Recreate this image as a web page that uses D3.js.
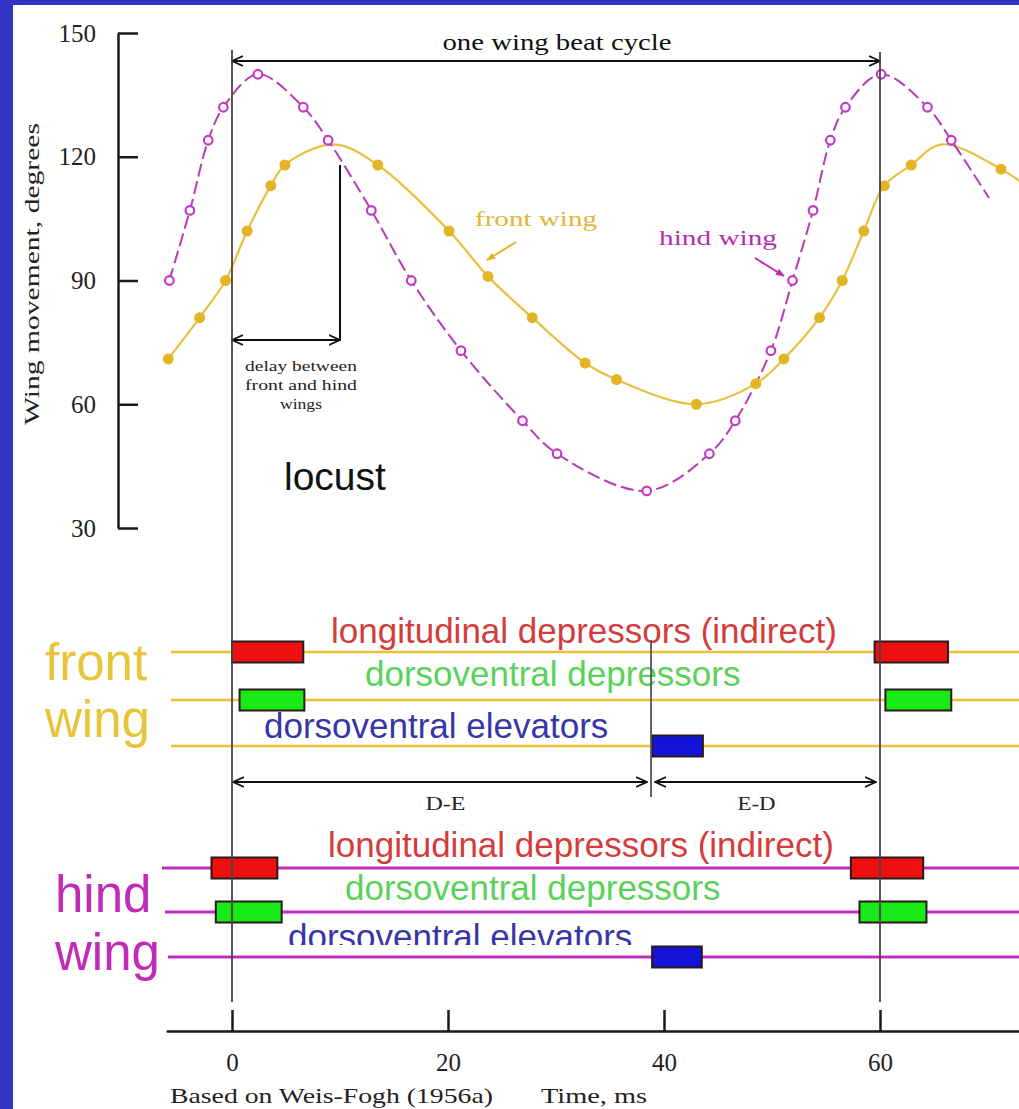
<!DOCTYPE html>
<html>
<head>
<meta charset="utf-8">
<script src="https://d3js.org/d3.v7.min.js"></script>
<style>
body { margin: 0; background: #3434c4; }
svg { display: block; }
.serif { font-family: "Liberation Serif", "DejaVu Serif", serif; }
.sans { font-family: "Liberation Sans", Arial, sans-serif; }
</style>
</head>
<body>
<div id="chart"></div>
<script>
// values (time in ms, angle in degrees)
var timeTicks = [0, 20, 40, 60];
var angleTicks = [30, 60, 90, 120, 150];

var hindTime   = [-5.8, -3.9, -2.2, -0.8, 2.4, 6.6, 8.9, 12.9, 16.6, 21.2, 26.9, 30.1, 38.4, 44.2, 46.6, 49.9, 51.9, 53.8, 55.4, 56.8, 60.1, 64.4, 66.6, 70.1];
var hindAngle  = [90, 107, 124, 132, 140, 132, 124, 107, 90, 73, 56, 48, 39, 48, 56, 73, 90, 107, 124, 132, 140, 132, 124, 110];
var hindMarker = [1, 1, 1, 1, 1, 1, 1, 1, 1, 1, 1, 1, 1, 1, 1, 1, 1, 1, 1, 1, 1, 1, 1, 0];

var frontTime   = [-5.9, -3.0, -0.6, 1.4, 3.6, 4.9, 9.4, 13.5, 20.1, 23.7, 27.8, 32.7, 35.6, 43.0, 48.5, 51.1, 54.4, 56.5, 58.5, 60.4, 62.9, 65.7, 71.2, 74.0];
var frontAngle  = [71, 81, 90, 102, 113, 118, 123, 118, 102, 91, 81, 70, 66, 60, 65, 71, 81, 90, 102, 113, 118, 123, 117, 112];
var frontMarker = [1, 1, 1, 1, 1, 1, 0, 1, 1, 1, 1, 1, 1, 1, 1, 1, 1, 1, 1, 1, 1, 0, 1, 0];

var muscleNames = ["longitudinal depressors (indirect)", "dorsoventral depressors", "dorsoventral elevators"];
var muscleColors = ["#d43c3c", "#5ad25a", "#3636a8"];
var barFill = ["#ee1010", "#18ea18", "#1414d8"];

// electrical activity bursts, ms
var frontBurstMuscle = [0, 0, 1, 1, 2];
var frontBurstStart  = [0, 59.5, 0.7, 60.5, 38.9];
var frontBurstEnd    = [6.6, 66.3, 6.7, 66.6, 43.6];

var hindBurstMuscle = [0, 0, 1, 1, 2];
var hindBurstStart  = [-1.9, 57.3, -1.5, 58.1, 38.9];
var hindBurstEnd    = [4.2, 64.0, 4.6, 64.3, 43.5];

var cycleStart = 0, cycleEnd = 60, elevStart = 38.8, delayEnd = 10;
var timeAxisExtent = [-6.1, 73];

var width = 1019, height = 1109;
var svg = d3.select('#chart').append('svg')
  .attr('width', width)
  .attr('height', height);

svg.append('rect').attr('x', 13).attr('y', 5)
  .attr('width', width - 13).attr('height', height - 5)
  .attr('fill', '#fff');

var defs = svg.append('defs');
defs.append('marker')
  .attr('id', 'open')
  .attr('viewBox', '0 0 12 12')
  .attr('refX', 11).attr('refY', 6)
  .attr('markerWidth', 12).attr('markerHeight', 12)
  .attr('markerUnits', 'userSpaceOnUse')
  .attr('orient', 'auto-start-reverse')
  .append('path')
  .attr('d', 'M0,1 L11,6 L0,11')
  .attr('fill', 'none').attr('stroke', '#111').attr('stroke-width', 1.8);

function solidHead(id, col) {
  defs.append('marker')
    .attr('id', id)
    .attr('viewBox', '0 0 10 10')
    .attr('refX', 9).attr('refY', 5)
    .attr('markerWidth', 9).attr('markerHeight', 9)
    .attr('markerUnits', 'userSpaceOnUse')
    .attr('orient', 'auto')
    .append('path')
    .attr('d', 'M0,1 L10,5 L0,9 Z')
    .attr('fill', col);
}
solidHead('headGold', '#e2b62a');
solidHead('headMag', '#b52cb5');

defs.append('clipPath').attr('id', 'cutElev')
  .append('rect').attr('x', 0).attr('y', 0).attr('width', width).attr('height', 945);

var x = d3.scaleLinear().domain([0, 60]).range([232, 880]);
var y = d3.scaleLinear().domain([30, 150]).range([528, 33]);

// y axis
var yAxis = svg.append('g')
  .attr('transform', 'translate(118,0)')
  .call(d3.axisLeft(y).tickValues(angleTicks).tickSize(-20).tickSizeOuter(0).tickPadding(22));
yAxis.selectAll('path, line').attr('stroke', '#1a1a1a').attr('stroke-width', 2.5);
yAxis.selectAll('text').attr('class', 'serif').attr('font-size', 25).attr('fill', '#222');

svg.append('text')
  .attr('class', 'serif')
  .attr('transform', 'translate(39,274) rotate(-90)')
  .attr('text-anchor', 'middle')
  .attr('font-size', 21)
  .attr('textLength', 302)
  .attr('lengthAdjust', 'spacingAndGlyphs')
  .attr('fill', '#222')
  .text('Wing movement, degrees');

// x axis
var xa = d3.scaleLinear().domain(timeAxisExtent).range(timeAxisExtent.map(x));
var xAxis = svg.append('g')
  .attr('transform', 'translate(0,1031)')
  .call(d3.axisBottom(xa).tickValues(timeTicks).tickSize(-21).tickSizeOuter(0).tickPadding(22));
xAxis.selectAll('path, line').attr('stroke', '#1a1a1a').attr('stroke-width', 2.5);
xAxis.selectAll('text').attr('class', 'serif').attr('font-size', 25).attr('fill', '#222');

svg.append('text').attr('class', 'serif')
  .attr('x', 170).attr('y', 1103).attr('font-size', 22)
  .attr('textLength', 323).attr('lengthAdjust', 'spacingAndGlyphs')
  .attr('fill', '#222').text('Based on Weis-Fogh (1956a)');
svg.append('text').attr('class', 'serif')
  .attr('x', 541).attr('y', 1103).attr('font-size', 22)
  .attr('textLength', 106).attr('lengthAdjust', 'spacingAndGlyphs')
  .attr('fill', '#222').text('Time, ms');

// wing curves
function series(t, a, m) {
  return t.map(function(d, i) { return {t: d, a: a[i], m: m[i]}; });
}
var hind = series(hindTime, hindAngle, hindMarker);
var front = series(frontTime, frontAngle, frontMarker);

var line = d3.line()
  .x(function(d) { return x(d.t); })
  .y(function(d) { return y(d.a); })
  .curve(d3.curveCatmullRom.alpha(0.5));

svg.append('path').datum(front)
  .attr('d', line).attr('fill', 'none')
  .attr('stroke', '#e8c040').attr('stroke-width', 2.2);
svg.append('path').datum(hind)
  .attr('d', line).attr('fill', 'none')
  .attr('stroke', '#b83ab8').attr('stroke-width', 2)
  .attr('stroke-dasharray', '13,5');

svg.selectAll('.fdot')
  .data(front.filter(function(d) { return d.m; }))
  .enter().append('circle')
  .attr('class', 'fdot')
  .attr('cx', function(d) { return x(d.t); })
  .attr('cy', function(d) { return y(d.a); })
  .attr('r', 5.5)
  .attr('fill', '#e2b526');

svg.selectAll('.hdot')
  .data(hind.filter(function(d) { return d.m; }))
  .enter().append('circle')
  .attr('class', 'hdot')
  .attr('cx', function(d) { return x(d.t); })
  .attr('cy', function(d) { return y(d.a); })
  .attr('r', 4.3)
  .attr('fill', '#fff')
  .attr('stroke', '#c23ac6').attr('stroke-width', 2.2);

// curve labels
svg.append('text').attr('class', 'serif')
  .attr('x', 475).attr('y', 226).attr('font-size', 22)
  .attr('textLength', 122).attr('lengthAdjust', 'spacingAndGlyphs')
  .attr('fill', '#e2b632').text('front wing');
svg.append('line')
  .attr('x1', 516).attr('y1', 242).attr('x2', 487).attr('y2', 260)
  .attr('stroke', '#e2b62a').attr('stroke-width', 2)
  .attr('marker-end', 'url(#headGold)');

svg.append('text').attr('class', 'serif')
  .attr('x', 659).attr('y', 245).attr('font-size', 22)
  .attr('textLength', 118).attr('lengthAdjust', 'spacingAndGlyphs')
  .attr('fill', '#b52cb5').text('hind wing');
svg.append('line')
  .attr('x1', 755).attr('y1', 258).attr('x2', 784).attr('y2', 276)
  .attr('stroke', '#b52cb5').attr('stroke-width', 2)
  .attr('marker-end', 'url(#headMag)');

// one wing beat cycle
svg.append('line')
  .attr('x1', x(cycleStart)).attr('y1', 61).attr('x2', x(cycleEnd)).attr('y2', 61)
  .attr('stroke', '#111').attr('stroke-width', 1.8)
  .attr('marker-start', 'url(#open)').attr('marker-end', 'url(#open)');
svg.append('text').attr('class', 'serif')
  .attr('x', 557).attr('y', 50).attr('text-anchor', 'middle').attr('font-size', 24)
  .attr('textLength', 229).attr('lengthAdjust', 'spacingAndGlyphs')
  .attr('fill', '#111').text('one wing beat cycle');

// delay between front and hind wings
svg.append('line')
  .attr('x1', x(delayEnd)).attr('y1', 165).attr('x2', x(delayEnd)).attr('y2', 341)
  .attr('stroke', '#111').attr('stroke-width', 2);
svg.append('line')
  .attr('x1', x(cycleStart)).attr('y1', 340).attr('x2', x(delayEnd)).attr('y2', 340)
  .attr('stroke', '#111').attr('stroke-width', 1.8)
  .attr('marker-start', 'url(#open)').attr('marker-end', 'url(#open)');
var delayLines = ['delay between', 'front and hind', 'wings'];
var delayLen = [112, 112, 42];
svg.selectAll('.delay').data(delayLines).enter().append('text')
  .attr('class', 'serif delay')
  .attr('x', 301).attr('y', function(d, i) { return 371 + i * 19; })
  .attr('text-anchor', 'middle').attr('font-size', 15)
  .attr('textLength', function(d, i) { return delayLen[i]; })
  .attr('lengthAdjust', 'spacingAndGlyphs')
  .attr('fill', '#222').text(function(d) { return d; });

svg.append('text').attr('class', 'sans')
  .attr('x', 284).attr('y', 490).attr('font-size', 39)
  .attr('fill', '#111').text('locust');

// muscle activity panels
var frontRows = [652, 700, 746];
var frontLabelY = [643, 686, 738];
var frontLabelX = [331, 365, 264];
var hindRows = [868, 912, 957];
var hindLabelY = [857, 900, 949];
var hindLabelX = [328, 345, 288];
var hindLineStart = [162, 165, 168];

frontRows.forEach(function(r) {
  svg.append('line').attr('x1', 171).attr('x2', width).attr('y1', r).attr('y2', r)
    .attr('stroke', '#f0c034').attr('stroke-width', 2.5);
});
hindRows.forEach(function(r, i) {
  svg.append('line').attr('x1', hindLineStart[i]).attr('x2', width).attr('y1', r).attr('y2', r)
    .attr('stroke', '#c02cc0').attr('stroke-width', 3);
});

muscleNames.forEach(function(n, i) {
  svg.append('text').attr('class', 'sans')
    .attr('x', frontLabelX[i]).attr('y', frontLabelY[i]).attr('font-size', 35)
    .attr('fill', muscleColors[i]).text(n);
  var t = svg.append('text').attr('class', 'sans')
    .attr('x', hindLabelX[i]).attr('y', hindLabelY[i]).attr('font-size', 35)
    .attr('fill', muscleColors[i]).text(n);
  if (i == 2) t.attr('clip-path', 'url(#cutElev)');
});

svg.append('text').attr('class', 'sans').attr('x', 45).attr('y', 680)
  .attr('font-size', 51).attr('fill', '#e8c43a').text('front');
svg.append('text').attr('class', 'sans').attr('x', 45).attr('y', 737)
  .attr('font-size', 51).attr('fill', '#e8c43a').text('wing');
svg.append('text').attr('class', 'sans').attr('x', 55).attr('y', 912)
  .attr('font-size', 51).attr('fill', '#c02cb8').text('hind');
svg.append('text').attr('class', 'sans').attr('x', 55).attr('y', 970)
  .attr('font-size', 51).attr('fill', '#c02cb8').text('wing');

var barH = 21;
function bursts(muscle, start, end, rows) {
  muscle.forEach(function(m, i) {
    svg.append('rect')
      .attr('x', x(start[i])).attr('y', rows[m] - barH / 2)
      .attr('width', x(end[i]) - x(start[i])).attr('height', barH)
      .attr('fill', barFill[m]).attr('stroke', '#2a1a1a').attr('stroke-width', 2);
  });
}
bursts(frontBurstMuscle, frontBurstStart, frontBurstEnd, frontRows);
bursts(hindBurstMuscle, hindBurstStart, hindBurstEnd, hindRows);

// D-E / E-D intervals
svg.append('line')
  .attr('x1', x(elevStart)).attr('y1', 640).attr('x2', x(elevStart)).attr('y2', 797)
  .attr('stroke', '#555').attr('stroke-width', 1.8);
svg.append('line')
  .attr('x1', x(cycleStart) + 1).attr('y1', 782).attr('x2', x(elevStart) - 4).attr('y2', 782)
  .attr('stroke', '#111').attr('stroke-width', 1.8)
  .attr('marker-start', 'url(#open)').attr('marker-end', 'url(#open)');
svg.append('line')
  .attr('x1', x(elevStart) + 4).attr('y1', 782).attr('x2', x(cycleEnd) - 4).attr('y2', 782)
  .attr('stroke', '#111').attr('stroke-width', 1.8)
  .attr('marker-start', 'url(#open)').attr('marker-end', 'url(#open)');
svg.append('text').attr('class', 'serif')
  .attr('x', x((cycleStart + elevStart) / 2) + 4).attr('y', 810).attr('text-anchor', 'middle')
  .attr('font-size', 18).attr('textLength', 40).attr('lengthAdjust', 'spacingAndGlyphs')
  .attr('fill', '#222').text('D-E');
svg.append('text').attr('class', 'serif')
  .attr('x', x((elevStart + cycleEnd) / 2) - 9).attr('y', 810).attr('text-anchor', 'middle')
  .attr('font-size', 18).attr('textLength', 38).attr('lengthAdjust', 'spacingAndGlyphs')
  .attr('fill', '#222').text('E-D');

// cycle boundaries drawn over everything
[cycleStart, cycleEnd].forEach(function(t, i) {
  svg.append('line')
    .attr('x1', x(t)).attr('x2', x(t))
    .attr('y1', i ? 52 : 50).attr('y2', 1002)
    .attr('stroke', '#444').attr('stroke-width', 1.8);
});
</script>
</body>
</html>
